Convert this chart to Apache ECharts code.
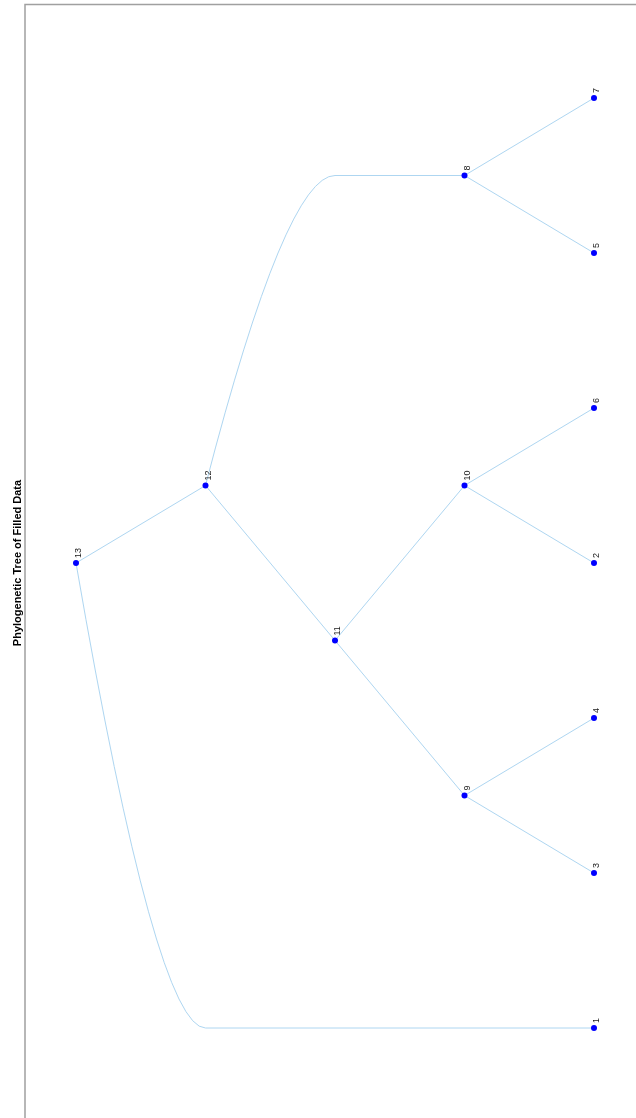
<!DOCTYPE html>
<html>
<head>
<meta charset="utf-8">
<script src="https://cdn.jsdelivr.net/npm/echarts@6/dist/echarts.min.js"></script>
<style>
html,body{margin:0;padding:0;background:#fff;}
#chart{width:636px;height:1118px;}
</style>
</head>
<body>
<div id="chart"></div>
<script>
// ---- data ----
const titleText = 'Phylogenetic Tree of Filled Data';
const nodeNames   = ['13', '12', '8', '7', '5', '11', '10', '6', '2', '9', '4', '3', '1'];
const nodeParents = ['',   '13', '12', '8', '8', '12', '11', '10', '10', '11', '9', '9', '13'];
const nodeDepths  = [0,    1,    3,    4,   4,   2,    3,    4,   4,   3,   4,   4,   4];

// ---- layout from tree structure ----
const leaves = nodeNames.filter(n => !nodeParents.includes(n));
const childrenOf = n => nodeNames.filter((m, i) => nodeParents[i] === n);
function leafRange(n) {
  const kids = childrenOf(n);
  if (!kids.length) { const k = leaves.indexOf(n); return [k, k]; }
  let lo = Infinity, hi = -Infinity;
  kids.forEach(c => { const r = leafRange(c); lo = Math.min(lo, r[0]); hi = Math.max(hi, r[1]); });
  return [lo, hi];
}
const nodePos = {};
nodeNames.forEach(n => { const r = leafRange(n); nodePos[n] = (r[0] + r[1]) / 2; });
const depthOf = n => nodeDepths[nodeNames.indexOf(n)];

const nodeData = nodeNames.map((n, i) => [nodeDepths[i], nodePos[n], n]);
const edgeData = [];
nodeNames.forEach((n, i) => {
  const p = nodeParents[i];
  if (!p) return;
  const pd = depthOf(p), cd = nodeDepths[i];
  if (cd - pd > 1) {
    edgeData.push([pd, nodePos[p], pd + 1, nodePos[n], 1]);
    edgeData.push([pd + 1, nodePos[n], cd, nodePos[n], 0]);
  } else {
    edgeData.push([pd, nodePos[p], cd, nodePos[n], 0]);
  }
});

const EDGE_COLOR = '#aed6f1';
const chart = echarts.init(document.getElementById('chart'), null, {renderer: 'canvas'});
chart.setOption({
  animation: false,
  backgroundColor: '#ffffff',
  grid: {left: 76, right: 42, top: 98, bottom: 90},
  xAxis: {type: 'value', min: 0, max: 4, show: false},
  yAxis: {type: 'value', min: 0, max: leaves.length - 1, inverse: true, show: false},
  graphic: [
    {type: 'polyline', shape: {points: [[25, 1118], [25, 4.5], [636, 4.5]]},
     style: {stroke: '#a0a0a0', lineWidth: 1.5, fill: null}, z: 0},
    {type: 'text', x: 18, y: 563, rotation: Math.PI / 2,
     style: {text: titleText, font: 'bold 11px "Liberation Sans", Arial, sans-serif',
             fill: '#000', align: 'center', verticalAlign: 'middle'}}
  ],
  series: [
    {
      type: 'custom',
      z: 1,
      clip: false,
      encode: {x: [0, 2], y: [1, 3]},
      data: edgeData,
      renderItem: function (params, api) {
        const v0 = api.value(0), v1 = api.value(1), v2 = api.value(2), v3 = api.value(3);
        const a = api.coord([v0, v1]);
        const b = api.coord([v2, v3]);
        if (api.value(4)) {
          const c = api.coord([v0 + 0.62 * (v2 - v0), v3]);
          return {type: 'bezierCurve',
                  shape: {x1: a[0], y1: a[1], x2: b[0], y2: b[1], cpx1: c[0], cpy1: c[1]},
                  style: {stroke: EDGE_COLOR, lineWidth: 1, fill: null}};
        }
        return {type: 'line', shape: {x1: a[0], y1: a[1], x2: b[0], y2: b[1]},
                style: {stroke: EDGE_COLOR, lineWidth: 1}};
      }
    },
    {
      type: 'scatter',
      z: 2,
      data: nodeData,
      symbol: 'circle',
      symbolSize: 6,
      itemStyle: {color: '#0000ff', opacity: 1},
      label: {
        show: true,
        formatter: p => p.data[2],
        position: 'top',
        distance: 2,
        rotate: 90,
        align: 'left',
        verticalAlign: 'middle',
        offset: [0, 3],
        fontSize: 9,
        color: '#1a1a1a',
        fontFamily: '"Liberation Sans", Arial, sans-serif'
      }
    }
  ]
});
</script>
</body>
</html>
